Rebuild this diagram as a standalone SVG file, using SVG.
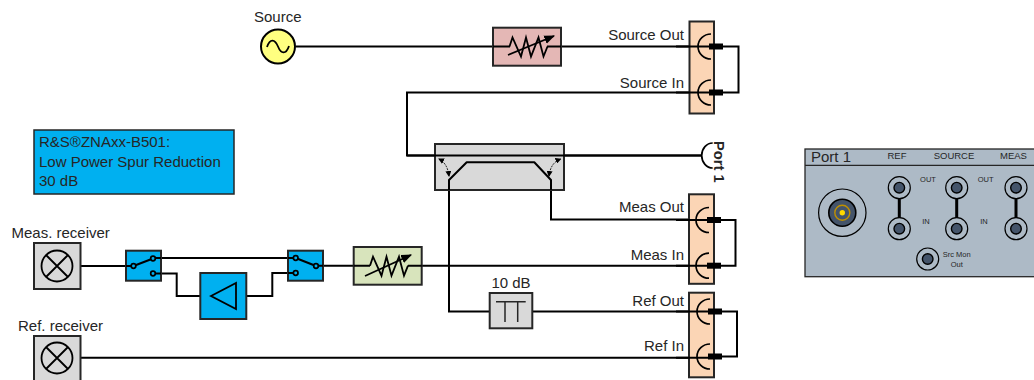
<svg xmlns="http://www.w3.org/2000/svg" width="1034" height="380" viewBox="0 0 1034 380">
<style>
text{font-family:"Liberation Sans",Arial,sans-serif;fill:#262626}
.l{font-size:15px;text-anchor:end}
.m{font-size:15px}
.w{fill:none;stroke:#000;stroke-width:2}
.t{fill:none;stroke:#000;stroke-width:2;stroke-linejoin:round}
.pan{fill:#fbd5b5;stroke:#262626;stroke-width:2}
.stub{fill:#000}
.arc{fill:none;stroke:#000;stroke-width:1.7}
.sw{fill:#00b0f0;stroke:#262626;stroke-width:2}
.c{fill:#00b0f0;stroke:#000;stroke-width:1.7}
.s{font-size:9.5px;text-anchor:middle}
.xs{font-size:7.5px;text-anchor:middle}
.po{fill:#adbac6;stroke:#000;stroke-width:1.2}
.pi{fill:#44546a;stroke:#000;stroke-width:1.4}
</style>
<defs>
<marker id="a" viewBox="0 0 6 6" refX="5" refY="3" markerWidth="6" markerHeight="6" orient="auto-start-reverse"><path d="M0 0L6 3L0 6z" fill="#000"/></marker>
<marker id="v" viewBox="0 0 10 8" refX="9" refY="4" markerWidth="6" markerHeight="5" orient="auto"><path d="M0 0L10 4L0 8z" fill="#000"/></marker>
<g id="rx"><circle cx="0" cy="0" r="15.5" fill="none" stroke="#000" stroke-width="1.8"/><path d="M-11 -11L11 11M-11 11L11 -11" stroke="#000" stroke-width="1.8"/></g>
<path id="res" d="M-16 0L-13 -9L-4.5 10L.5 -9L5.5 10L13 -9L18 10L22 0" fill="none" stroke="#000" stroke-width="1.8" stroke-linejoin="miter"/>
<g id="cn"><path d="M11 -12.5A13 12.5 0 0 0 11 12.5" class="arc"/><rect x="9" y="-3" width="14" height="6" class="stub"/></g>
</defs>

<g id="connectors">
<path class="w" d="M296 46.5H493M561 46.5H690"/>
<path class="w" d="M690 92.5H407V155.5H702"/>
<path class="w" d="M723 46.5H738.5V92.5H723"/>
<path class="w" d="M720 220H735.5V265.7H720"/>
<path class="w" d="M722 311.5H737V356.5H722"/>
<path class="w" d="M551 180V219.5H690"/>
<path class="w" d="M449 180V311.5H490M532 311.5H690"/>
<path class="w" d="M80 266H127M80 357.7H690"/>
<path class="w" d="M153 258H296M153 273.5H176.7V296H200M246 296H272.3V273H296"/>
<path class="w" d="M316 265.7H354M422 265.7H690"/>
</g>

<g id="source"><text x="254" y="22" style="font-size:15px">Source</text><circle cx="278" cy="46.5" r="17" fill="#ffff80" stroke="#000" stroke-width="2"/><path d="M267 47C270 38 275 39 278 46.5C281 54 286 55 289 46" fill="none" stroke="#000" stroke-width="1.8"/></g>

<g id="src-atten"><rect x="493" y="27.7" width="68" height="38" fill="#e4b7b5" stroke="#262626" stroke-width="2"/><path d="M493 46.5H510M547 46.5H561" class="w"/><use href="#res" transform="translate(525.5 46.5)"/><path d="M508 55L554 36" stroke="#000" stroke-width="1.8" marker-end="url(#v)"/></g>

<g id="panel-source"><rect x="689.5" y="21.5" width="24.5" height="92" class="pan"/><path d="M676 46.5H709M676 92.5H709" class="w"/><use href="#cn" y="46.5" x="700"/><use href="#cn" y="92.5" x="700"/><text x="684" y="40" class="l">Source Out</text><text x="684" y="87.7" class="l">Source In</text></g>

<g id="port1"><path d="M712.7 143A11 12.5 0 0 0 712.7 168" class="arc"/><text transform="translate(714 141) rotate(90)" style="font-size:14.7px;font-weight:bold">Port 1</text></g>

<g id="note"><rect x="34" y="130" width="200" height="64" fill="#00b0f0" stroke="#262626" stroke-width="1.5"/><text x="39" y="147" class="m">R&amp;S®ZNAxx-B501:</text><text x="39" y="167" class="m">Low Power Spur Reduction</text><text x="39" y="186" class="m">30 dB</text></g>

<g id="coupler"><rect x="435" y="144" width="129" height="46" fill="#d9d9d9" stroke="#262626" stroke-width="2"/><path d="M407 155.5H702" class="w"/><path d="M449 190V180L466.7 162.3H534.3L551 180V190" class="t"/>
<path d="M449 176C448 168 445 162 439 159" fill="none" stroke="#262626" stroke-width="1" stroke-dasharray="2 1" marker-start="url(#a)" marker-end="url(#a)"/>
<path d="M549 176C550 168 553 162 560.5 159" fill="none" stroke="#262626" stroke-width="1" stroke-dasharray="2 1" marker-start="url(#a)" marker-end="url(#a)"/></g>

<g id="panel-meas"><rect x="689" y="194.3" width="25" height="89.5" class="pan"/><path d="M676 220H707M676 265.7H707" class="w"/><use href="#cn" y="220" x="698"/><use href="#cn" y="265.7" x="698"/><text x="684" y="211.7" class="l">Meas Out</text><text x="684" y="260" class="l">Meas In</text></g>

<g id="panel-ref"><rect x="689" y="292.7" width="25" height="84.6" class="pan"/><path d="M676 311.5H708M676 357.7H708" class="w"/><use href="#cn" y="311.5" x="699"/><use href="#cn" y="356.5" x="699"/><text x="684" y="305.7" class="l">Ref Out</text><text x="684" y="351" class="l">Ref In</text></g>

<g id="meas-rx"><text x="11.5" y="237.7" style="font-size:15px">Meas. receiver</text><rect x="34" y="243" width="46.5" height="46" fill="#d9d9d9" stroke="#262626" stroke-width="2"/><use href="#rx" x="57" y="266"/></g>
<g id="ref-rx"><text x="18" y="330.7" style="font-size:15px">Ref. receiver</text><rect x="34" y="336" width="46.5" height="46" fill="#d9d9d9" stroke="#262626" stroke-width="2"/><use href="#rx" x="57" y="358"/></g>

<g id="switch1"><rect x="126" y="250.7" width="35" height="30" class="sw"/><path d="M126 266H133M153 258H161M153 273.5H161M133.5 266L153 258.5" class="w"/><circle cx="133.5" cy="266" r="2.3" class="c"/><circle cx="153" cy="258.5" r="2.3" class="c"/><circle cx="153" cy="273.5" r="2.3" class="c"/></g>
<g id="amp"><rect x="200.3" y="273" width="46" height="46" fill="#00b0f0" stroke="#262626" stroke-width="2"/><path d="M211 296L236 283V309Z" fill="none" stroke="#000" stroke-width="1.8"/></g>
<g id="switch2"><rect x="288" y="250.7" width="35" height="30" class="sw"/><path d="M288 258H295M288 273H295M316 265.7H323M295.7 258L316 266" class="w"/><circle cx="295.7" cy="258" r="2.3" class="c"/><circle cx="295.7" cy="273" r="2.3" class="c"/><circle cx="316" cy="266" r="2.3" class="c"/></g>

<g id="meas-atten"><rect x="353.7" y="247" width="68" height="37.7" fill="#d8e4bc" stroke="#262626" stroke-width="2"/><path d="M353.7 265.7H370M408 265.7H421.7" class="w"/><use href="#res" transform="translate(386 265.7)"/><path d="M365 276L411 255" stroke="#000" stroke-width="1.8" marker-end="url(#v)"/></g>

<g id="atten-10db"><text x="511" y="287.7" text-anchor="middle" style="font-size:15px">10 dB</text><rect x="489.7" y="293" width="42.6" height="35.3" fill="#d9d9d9" stroke="#262626" stroke-width="2"/><path d="M496 301.7H525.7M505 301.7V322M517.7 301.7V322" fill="none" stroke="#262626" stroke-width="1.5"/></g>

<g id="front-panel"><rect x="805" y="149" width="235" height="127.7" fill="#adbac6" stroke="#262626" stroke-width="1.3"/><path d="M805 165.3H1034" stroke="#262626" stroke-width="1.3"/>
<text x="811" y="161.7" style="font-size:15px">Port 1</text>
<text x="897" y="159" class="s">REF</text><text x="954" y="159" class="s">SOURCE</text><text x="1013.5" y="159" class="s">MEAS</text>
<text x="928" y="181.7" class="xs">OUT</text><text x="926" y="224" class="xs">IN</text><text x="985.7" y="181.7" class="xs">OUT</text><text x="984" y="224" class="xs">IN</text>
<text x="956.7" y="256.7" class="xs">Src Mon</text><text x="956.7" y="266.7" class="xs">Out</text>
<circle cx="842.3" cy="212.7" r="23.7" class="po"/><circle cx="842.3" cy="212.7" r="13.5" fill="#44546a" stroke="#000" stroke-width="1.6"/><circle cx="842.3" cy="212.7" r="7.5" fill="none" stroke="#bf9000" stroke-width="1.4"/><circle cx="842.3" cy="212.7" r="2.7" fill="#ffd900"/>
<path d="M899.3 198V219M956.7 198V219M1016 198V219" stroke="#000" stroke-width="3"/>
<circle cx="899.3" cy="187.7" r="11" class="po"/><circle cx="899.3" cy="187.7" r="5.3" class="pi"/>
<circle cx="899.3" cy="228.7" r="11" class="po"/><circle cx="899.3" cy="228.7" r="5.3" class="pi"/>
<circle cx="956.7" cy="187.7" r="11" class="po"/><circle cx="956.7" cy="187.7" r="5.3" class="pi"/>
<circle cx="956.7" cy="228.7" r="11" class="po"/><circle cx="956.7" cy="228.7" r="5.3" class="pi"/>
<circle cx="1016" cy="187.7" r="11" class="po"/><circle cx="1016" cy="187.7" r="5.3" class="pi"/>
<circle cx="1016" cy="228.7" r="11" class="po"/><circle cx="1016" cy="228.7" r="5.3" class="pi"/>
<circle cx="927.7" cy="259" r="11" class="po"/><circle cx="927.7" cy="259" r="5.3" class="pi"/>
</g>
</svg>
